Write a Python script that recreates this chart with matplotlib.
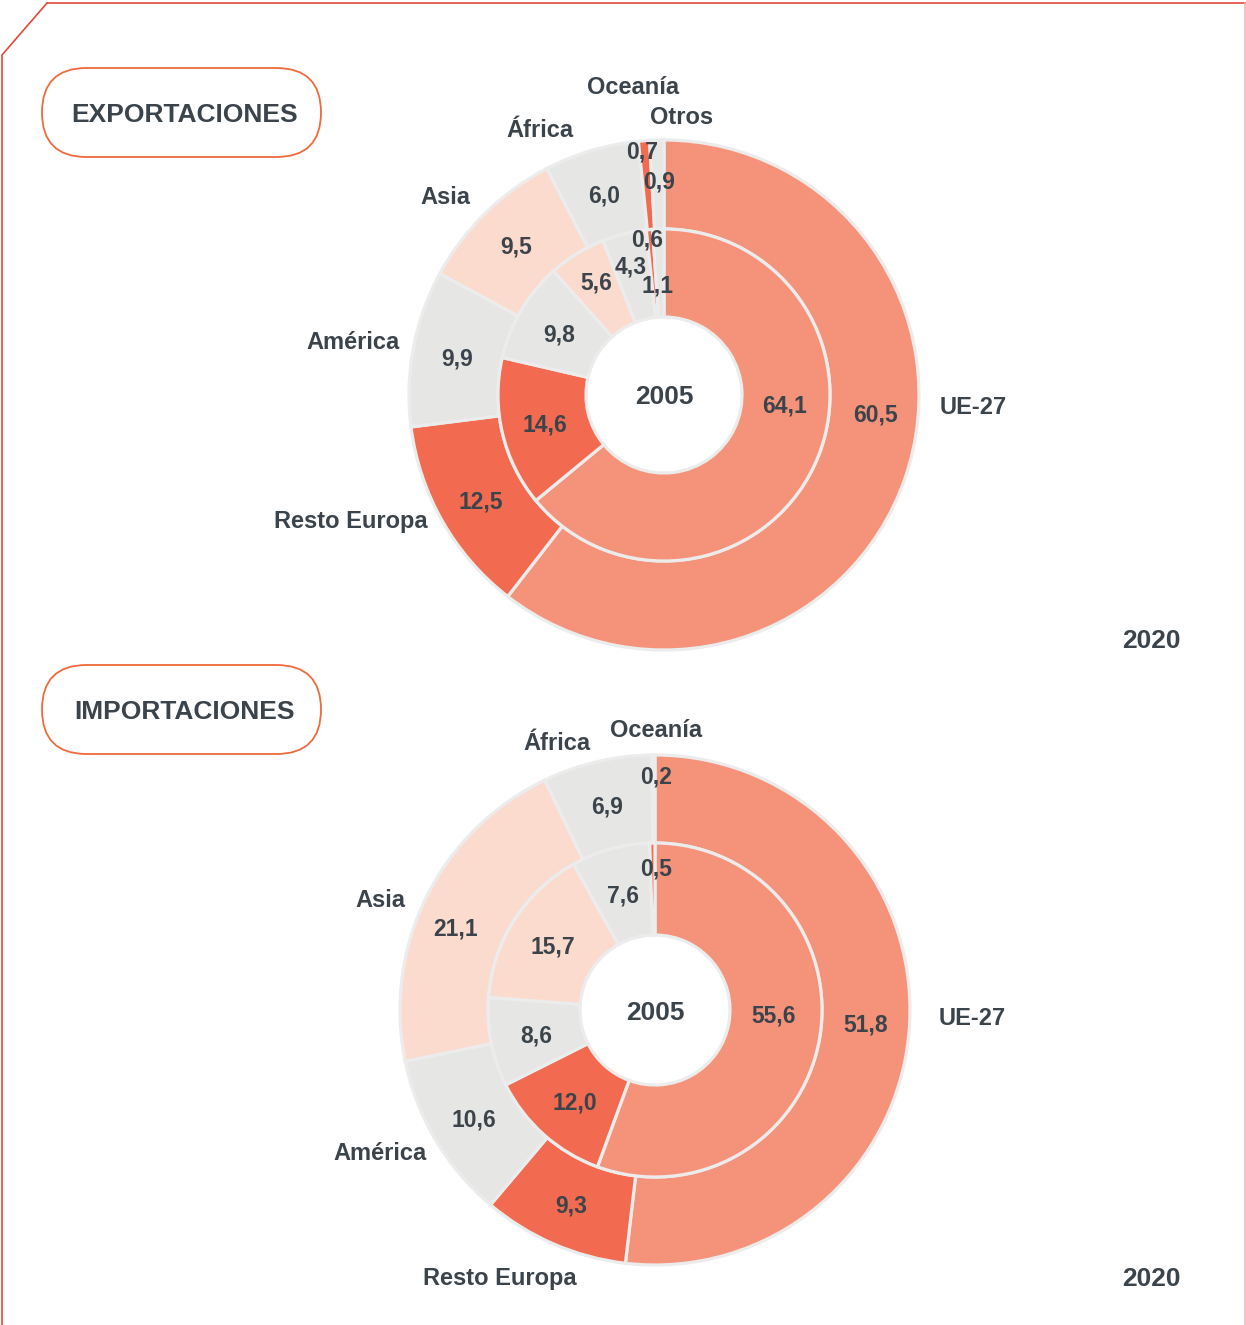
import numpy as np
import matplotlib.pyplot as plt
from matplotlib.patches import FancyBboxPatch

W, H = 1246, 1325

# ---- data (percent shares) ----
exp_regions = ['UE-27', 'Resto Europa', 'América', 'Asia', 'África', 'Oceanía', 'Otros']
exp_2020 = [60.5, 12.5, 9.9, 9.5, 6.0, 0.7, 0.9]
exp_2005 = [64.1, 14.6, 9.8, 5.6, 4.3, 0.6, 1.1]

imp_regions = ['UE-27', 'Resto Europa', 'América', 'Asia', 'África', 'Oceanía']
imp_2020 = [51.8, 9.3, 10.6, 21.1, 6.9, 0.2]
imp_2005 = [55.6, 12.0, 8.6, 15.7, 7.6, 0.5]

# ---- styling ----
TXT = '#3b434b'
SALMON = '#f4937a'
CORAL = '#f26b50'
GRAY = '#e6e7e5'
PEACH = '#fcdbcf'
EDGE = '#ececec'
region_colors = {'UE-27': SALMON, 'Resto Europa': CORAL, 'América': GRAY,
                 'Asia': PEACH, 'África': GRAY, 'Oceanía': CORAL, 'Otros': GRAY}

plt.rcParams['font.family'] = ['Liberation Sans', 'DejaVu Sans']
plt.rcParams['font.weight'] = 'bold'

fig = plt.figure(figsize=(W / 100, H / 100), dpi=100)
ax = fig.add_axes([0, 0, 1, 1])


def py(y):
    # pixel row (from top) -> data y
    return H - y


def txt(x, y, s, size, ha='center'):
    # y given as pixel row; small shift so the glyphs sit like the reference
    ax.text(x, py(y + 2.5), s, ha=ha, va='center', fontsize=size,
            color=TXT, fontweight='bold')


def ring(values, regions, center, r_out, width, nudges):
    cols = [region_colors[r] for r in regions]
    wedges, _ = ax.pie(values, radius=r_out, center=(center[0], py(center[1])),
                       startangle=90, counterclock=False, colors=cols,
                       wedgeprops=dict(width=width, edgecolor=EDGE, linewidth=2.3))
    r_mid = r_out - width / 2
    for i, w in enumerate(wedges):
        ang = np.deg2rad((w.theta1 + w.theta2) / 2)
        x = w.center[0] + r_mid * np.cos(ang)
        y = H - (w.center[1] + r_mid * np.sin(ang))
        dx, dy = nudges.get(i, (0, 0))
        txt(x + dx, y + dy, f'{values[i]:.1f}'.replace('.', ','), 16.5)


def pill(x0, y0, x1, y1, text):
    box = FancyBboxPatch((x0, py(y1)), x1 - x0, y1 - y0,
                         boxstyle=f'round,pad=0,rounding_size={(y1 - y0) / 2}',
                         facecolor='white', edgecolor='#ef6a3c', linewidth=1.3)
    ax.add_patch(box)
    txt((x0 + x1) / 2 + 3, (y0 + y1) / 2, text, 19)


# ---- exportaciones ----
c_exp = (664, 395)
ring(exp_2020, exp_regions, c_exp, 255, 89,
     {0: (12, -51), 5: (-5, -36), 6: (1, -5)})
ring(exp_2005, exp_regions, c_exp, 166, 88,
     {0: (10, -44), 3: (-4, -11), 4: (-4, -12), 5: (-6, -36), 6: (-2, 10)})
txt(c_exp[0], c_exp[1], '2005', 19)

exp_label_pos = [(940, 405, 'left'), (428, 519, 'right'), (400, 340, 'right'),
                 (470, 195, 'right'), (574, 128, 'right'), (633, 85, 'center'),
                 (682, 115, 'center')]
for name, (x, y, ha) in zip(exp_regions, exp_label_pos):
    txt(x, y, name, 17, ha)

# ---- importaciones ----
c_imp = (655, 1010)
ring(imp_2020, imp_regions, c_imp, 255, 88,
     {3: (-10, 10), 5: (2, -25)})
ring(imp_2005, imp_regions, c_imp, 167, 92,
     {0: (-1, -18), 5: (3, -23)})
txt(c_imp[0], c_imp[1], '2005', 19)

imp_label_pos = [(939, 1016, 'left'), (500, 1276, 'center'), (427, 1151, 'right'),
                 (405, 898, 'right'), (591, 741, 'right'), (656, 728, 'center')]
for name, (x, y, ha) in zip(imp_regions, imp_label_pos):
    txt(x, y, name, 17, ha)

# year tags and titles
txt(1151, 638, '2020', 19)
txt(1151, 1277, '2020', 19)
pill(42, 68, 321, 157, 'EXPORTACIONES')
pill(42, 665, 321, 754, 'IMPORTACIONES')

# frame
ax.plot([47, W], [py(3), py(3)], color='#e2493b', lw=1.2, solid_capstyle='butt')
ax.plot([47, 2, 2], [py(3), py(55), py(H)], color='#e2493b', lw=1.2)
ax.plot([W - 1.5, W - 1.5], [py(3), py(H)], color='#f2b8b0', lw=1.2)

ax.set_xlim(0, W)
ax.set_ylim(0, H)
ax.set_aspect('equal')
ax.axis('off')
fig.savefig('out.png', dpi=100, facecolor='white')
